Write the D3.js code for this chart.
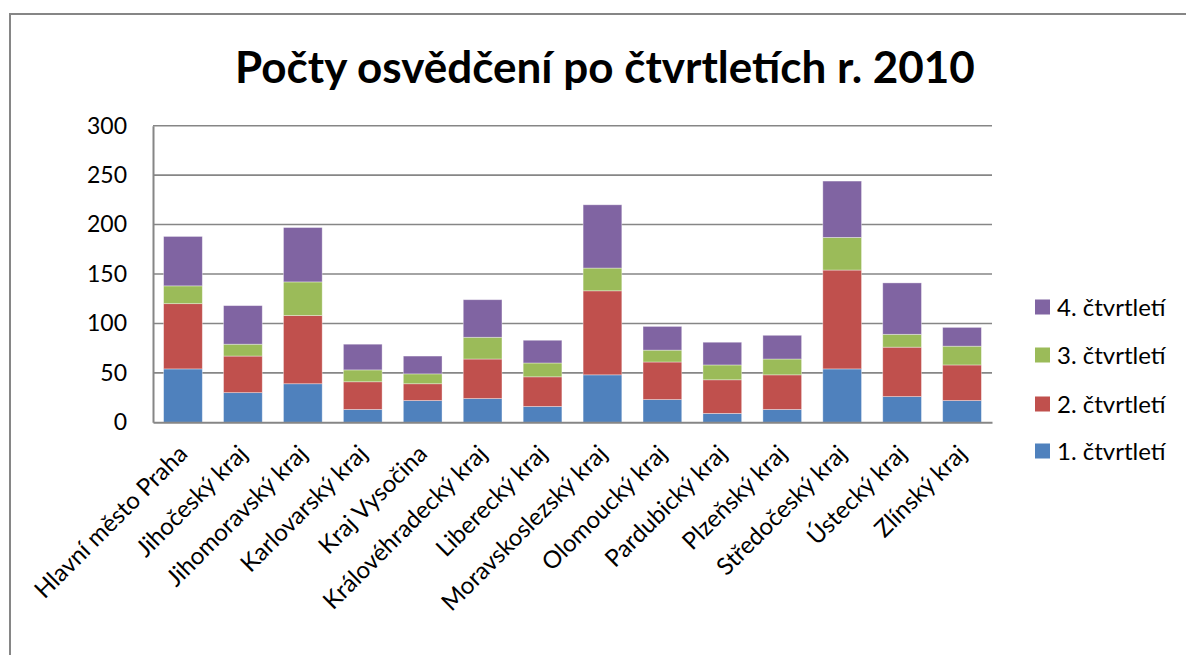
<!DOCTYPE html>
<html><head><meta charset="utf-8">
<script src="https://cdn.jsdelivr.net/npm/d3@7"></script>
<style>
html,body{margin:0;padding:0;background:#fff;}
svg{display:block;}
text{font-family:Lato,"Open Sans",sans-serif;fill:#000;}
</style></head>
<body>
<svg id="chart" width="1186" height="655"></svg>
<script>
const categories = ["Hlavní město Praha","Jihočeský kraj","Jihomoravský kraj","Karlovarský kraj","Kraj Vysočina","Královéhradecký kraj","Liberecký kraj","Moravskoslezský kraj","Olomoucký kraj","Pardubický kraj","Plzeňský kraj","Středočeský kraj","Ústecký kraj","Zlínský kraj"];
const seriesNames = ["1. čtvrtletí","2. čtvrtletí","3. čtvrtletí","4. čtvrtletí"];
const q1 = [54,30,39,13,22,24,16,48,23,9,13,54,26,22];
const q2 = [66,37,69,28,17,40,30,85,38,34,35,100,50,36];
const q3 = [18,12,34,12,10,22,14,23,12,15,16,33,13,19];
const q4 = [50,39,55,26,18,38,23,64,24,23,24,57,52,19];
const yTicks = [0,50,100,150,200,250,300];
const colors = ["#4F81BD","#C0504D","#9BBB59","#8064A2"];
const title = "Počty osvědčení po čtvrtletích r. 2010";

(function(){
const svg = d3.select("#chart");
// outer frame
svg.append("rect").attr("x",10).attr("y",14).attr("width",1186).attr("height",700)
  .attr("fill","none").attr("stroke","#868686").attr("stroke-width",2);

const pLeft = 153, pRight = 992, pTop = 125.7, pBottom = 422.3;
const x = d3.scaleBand().domain(categories).range([pLeft,pRight]).paddingInner(0.354).paddingOuter(0.177);
const y = d3.scaleLinear().domain([0,300]).range([pBottom,pTop]);

// gridlines
svg.append("g").selectAll("line").data(yTicks.filter(d=>d>0)).join("line")
  .attr("x1",pLeft).attr("x2",pRight).attr("y1",d=>y(d)).attr("y2",d=>y(d))
  .attr("stroke","#868686").attr("stroke-width",1.6);

// stacked data
const rows = categories.map((c,i)=>({cat:c, s0:q1[i], s1:q2[i], s2:q3[i], s3:q4[i]}));
const stack = d3.stack().keys(["s0","s1","s2","s3"])(rows);
svg.append("g").selectAll("g").data(stack).join("g")
  .attr("fill",(d,i)=>colors[i])
  .selectAll("rect").data(d=>d).join("rect")
  .attr("x",d=>x(d.data.cat)).attr("width",x.bandwidth())
  .attr("y",d=>y(d[1])).attr("height",d=>y(d[0])-y(d[1]))
  .attr("stroke","rgba(255,255,255,0.45)").attr("stroke-width",0.8);

// axes
const yAxis = d3.axisLeft(y).tickValues(yTicks).tickSize(0).tickPadding(26);
const gy = svg.append("g").attr("transform",`translate(${pLeft},0)`).call(yAxis);
gy.select(".domain").attr("stroke","#868686").attr("stroke-width",2);
gy.selectAll("text").attr("font-size",23).attr("font-family","Lato,sans-serif").attr("fill","#000");

const xAxis = d3.axisBottom(x).tickSize(0).tickFormat("");
const gx = svg.append("g").attr("transform",`translate(0,${pBottom})`).call(xAxis);
gx.select(".domain").attr("stroke","#868686").attr("stroke-width",2);

// x labels rotated
svg.append("g").selectAll("text").data(categories).join("text")
  .attr("text-anchor","end").attr("font-size",24)
  .attr("transform",d=>`translate(${x(d)+x.bandwidth()/2+6},${pBottom+33}) rotate(-45)`)
  .text(d=>d);

// title
const t = svg.append("text").attr("x",605).attr("y",83).attr("text-anchor","middle")
  .attr("font-weight","bold").attr("font-size",44).text(title);
const tl = t.node().getComputedTextLength();
t.attr("font-size",44*740/tl);

// legend
const legendY = [451,404,355,307];
const lg = svg.append("g");
seriesNames.forEach((n,i)=>{
  lg.append("rect").attr("x",1035).attr("y",legendY[i]-7.5).attr("width",15).attr("height",15).attr("fill",colors[i]);
  lg.append("text").attr("x",1057).attr("y",legendY[i]).attr("dy","0.36em").attr("font-size",24).text(n);
});
})();
</script>
</body></html>
